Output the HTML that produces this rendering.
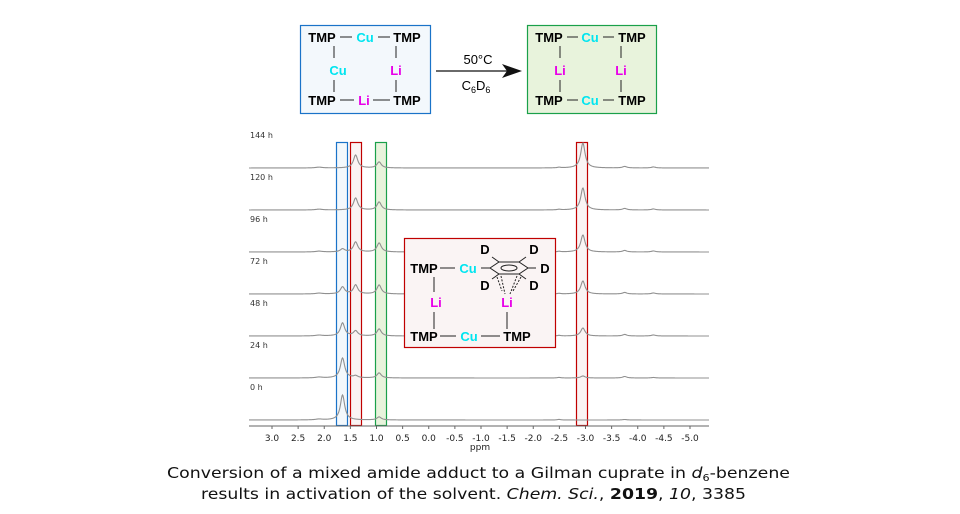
<!DOCTYPE html>
<html><head><meta charset="utf-8"><style>
html,body{margin:0;padding:0;background:#fff;width:960px;height:514px;overflow:hidden}
svg{display:block}
.b{font-family:"Liberation Sans",Arial,sans-serif;font-weight:bold;font-size:13px}
.cu{fill:#00e5f0}.li{fill:#e800e8}
.lab{font-family:"DejaVu Sans",sans-serif;font-size:8px;fill:#333}
.tk{font-family:"DejaVu Sans",sans-serif;font-size:9px;fill:#222}
.cap{font-family:"DejaVu Sans",Verdana,sans-serif;font-size:15.5px;fill:#111}
</style></head><body>
<svg width="960" height="514" viewBox="0 0 960 514" xmlns="http://www.w3.org/2000/svg">
<rect x="300.5" y="25.5" width="130" height="88" fill="#f3f8fc" stroke="#1a73c8" stroke-width="1.2"/>
<g class="b" text-anchor="middle">
<text x="322" y="42">TMP</text><text x="365" y="42" class="cu">Cu</text><text x="407" y="42">TMP</text>
<text x="338" y="75" class="cu">Cu</text><text x="396" y="75" class="li">Li</text>
<text x="322" y="105">TMP</text><text x="364" y="105" class="li">Li</text><text x="407" y="105">TMP</text>
</g>
<g stroke="#222" stroke-width="1">
<line x1="340" y1="37" x2="352" y2="37"/><line x1="378" y1="37" x2="390" y2="37"/>
<line x1="334" y1="46" x2="334" y2="58"/><line x1="334" y1="80" x2="334" y2="92"/>
<line x1="396" y1="46" x2="396" y2="58"/><line x1="396" y1="80" x2="396" y2="92"/>
<line x1="340" y1="100" x2="354" y2="100"/><line x1="373" y1="100" x2="390" y2="100"/>
</g>
<line x1="436" y1="71" x2="510" y2="71" stroke="#111" stroke-width="1.3"/>
<polygon points="522,71 502,64 507,71 502,78" fill="#111"/>
<text x="478" y="64" text-anchor="middle" font-family="Liberation Sans,sans-serif" font-size="13">50°C</text>
<text x="476" y="90" text-anchor="middle" font-family="Liberation Sans,sans-serif" font-size="13">C<tspan font-size="9" dy="3">6</tspan><tspan dy="-3">D</tspan><tspan font-size="9" dy="3">6</tspan></text>
<rect x="527.5" y="25.5" width="129" height="88" fill="#e8f3dc" stroke="#1aa04a" stroke-width="1.2"/>
<g class="b" text-anchor="middle">
<text x="549" y="42">TMP</text><text x="590" y="42" class="cu">Cu</text><text x="632" y="42">TMP</text>
<text x="560" y="75" class="li">Li</text><text x="621" y="75" class="li">Li</text>
<text x="549" y="105">TMP</text><text x="590" y="105" class="cu">Cu</text><text x="632" y="105">TMP</text>
</g>
<g stroke="#222" stroke-width="1">
<line x1="567" y1="37" x2="578" y2="37"/><line x1="603" y1="37" x2="614" y2="37"/>
<line x1="560" y1="46" x2="560" y2="58"/><line x1="560" y1="80" x2="560" y2="92"/>
<line x1="621" y1="46" x2="621" y2="58"/><line x1="621" y1="80" x2="621" y2="92"/>
<line x1="567" y1="100" x2="578" y2="100"/><line x1="603" y1="100" x2="614" y2="100"/>
</g>
<rect x="336.5" y="142.5" width="11" height="283" fill="#f3f8fc" stroke="#1a73c8" stroke-width="1.2"/>
<rect x="350.5" y="142.5" width="11" height="283" fill="#faf4f4" stroke="#c00000" stroke-width="1.2"/>
<rect x="375.5" y="142.5" width="11" height="283" fill="#e8f3dc" stroke="#1aa04a" stroke-width="1.2"/>
<rect x="576.5" y="142.5" width="11" height="283" fill="#faf4f4" stroke="#c00000" stroke-width="1.2"/>
<g id="spec" fill="none" stroke="#909090" stroke-width="1.1"></g>
<g class="lab">
<text x="250" y="138">144 h</text><text x="250" y="180">120 h</text><text x="250" y="222">96 h</text>
<text x="250" y="264">72 h</text><text x="250" y="306">48 h</text><text x="250" y="348">24 h</text><text x="250" y="390">0 h</text>
</g>
<line x1="249" y1="426" x2="709" y2="426" stroke="#666" stroke-width="1"/>
<g id="ticks" stroke="#666" stroke-width="1"></g>
<g class="tk" text-anchor="middle" id="tl"></g>
<text x="480" y="450" text-anchor="middle" class="tk" font-size="8">ppm</text>
<rect x="404.5" y="238.5" width="151" height="109" fill="#faf4f4" stroke="#c00000" stroke-width="1.2"/>
<g class="b" text-anchor="middle" font-size="12.5">
<text x="424" y="273">TMP</text><text x="468" y="273" class="cu">Cu</text>
<text x="436" y="307" class="li">Li</text><text x="507" y="307" class="li">Li</text>
<text x="424" y="341">TMP</text><text x="469" y="341" class="cu">Cu</text><text x="517" y="341">TMP</text>
<text x="485" y="254">D</text><text x="534" y="254">D</text><text x="545" y="273">D</text>
<text x="485" y="290">D</text><text x="534" y="290">D</text>
</g>
<g stroke="#222" stroke-width="1" fill="none">
<line x1="440" y1="268" x2="455" y2="268"/><line x1="481" y1="268" x2="490" y2="268"/>
<line x1="434" y1="277" x2="434" y2="292"/><line x1="434" y1="312" x2="434" y2="329"/>
<line x1="507" y1="312" x2="507" y2="329"/>
<line x1="440" y1="336" x2="456" y2="336"/><line x1="481" y1="336" x2="500" y2="336"/>
<polygon points="490,268 499,262 519,262 528,268 519,274 499,274"/>
<ellipse cx="509" cy="268" rx="8" ry="3"/>
<line x1="499" y1="262" x2="492" y2="257"/><line x1="519" y1="262" x2="526" y2="257"/>
<line x1="528" y1="268" x2="536" y2="268"/>
<line x1="499" y1="274" x2="492" y2="279"/><line x1="519" y1="274" x2="526" y2="279"/>
<g stroke-dasharray="2,1.5"><line x1="501" y1="276" x2="505" y2="294"/><line x1="517" y1="276" x2="510" y2="294"/><line x1="497" y1="277" x2="502" y2="291"/><line x1="521" y1="277" x2="513" y2="291"/></g>
</g>
<text x="167" y="478" class="cap" textLength="623" lengthAdjust="spacingAndGlyphs">Conversion of a mixed amide adduct to a Gilman cuprate in <tspan font-style="italic">d</tspan><tspan font-size="10" dy="3">6</tspan><tspan dy="-3">-benzene</tspan></text>
<text x="201" y="499" class="cap" textLength="545" lengthAdjust="spacingAndGlyphs">results in activation of the solvent. <tspan font-style="italic">Chem. Sci.</tspan>, <tspan font-weight="bold">2019</tspan>, <tspan font-style="italic">10</tspan>, 3385</text>
</svg>
<script>
var NS="http://www.w3.org/2000/svg";
function X(p){return 272+(3-p)*52.25;}
var base=[168,210,252,294,336,378,420];
var H=[[0,13,6,25,1.5,1],[0,12,8,22,1.5,1],[3,10,9,17,1.5,1],[7,9,9,13,1.5,1],[13,5,7,8,1.5,1],[20,2,5,2,1.5,0.5],[25,0,3,0,0.5,0]];
var pos=[1.65,1.4,0.95,-2.95,-3.75,-4.3];
var sp=document.getElementById('spec');
for(var r=0;r<7;r++){var d="";for(var x=249;x<=709;x+=0.5){var y=base[r];for(var k=0;k<6;k++){var dx=(x-X(pos[k]))/2.6;y-=H[r][k]/(1+dx*dx);}
y-=0.8/(1+Math.pow((x-319)/4,2));y-=0.6/(1+Math.pow((x-559)/2,2));
d+=(x==249?"M":"L")+x+","+y.toFixed(2);}
var p=document.createElementNS(NS,"path");p.setAttribute("d",d);sp.appendChild(p);}
var tk=document.getElementById('ticks'),tl=document.getElementById('tl');
for(var i=0;i<=16;i++){var p=3-i*0.5,x=X(p);var l=document.createElementNS(NS,"line");l.setAttribute("x1",x);l.setAttribute("x2",x);l.setAttribute("y1",426);l.setAttribute("y2",429);tk.appendChild(l);
var t=document.createElementNS(NS,"text");t.setAttribute("x",x);t.setAttribute("y",441);t.textContent=(p>=0?p.toFixed(1):"-"+(-p).toFixed(1));tl.appendChild(t);}
</script>
</body></html>
